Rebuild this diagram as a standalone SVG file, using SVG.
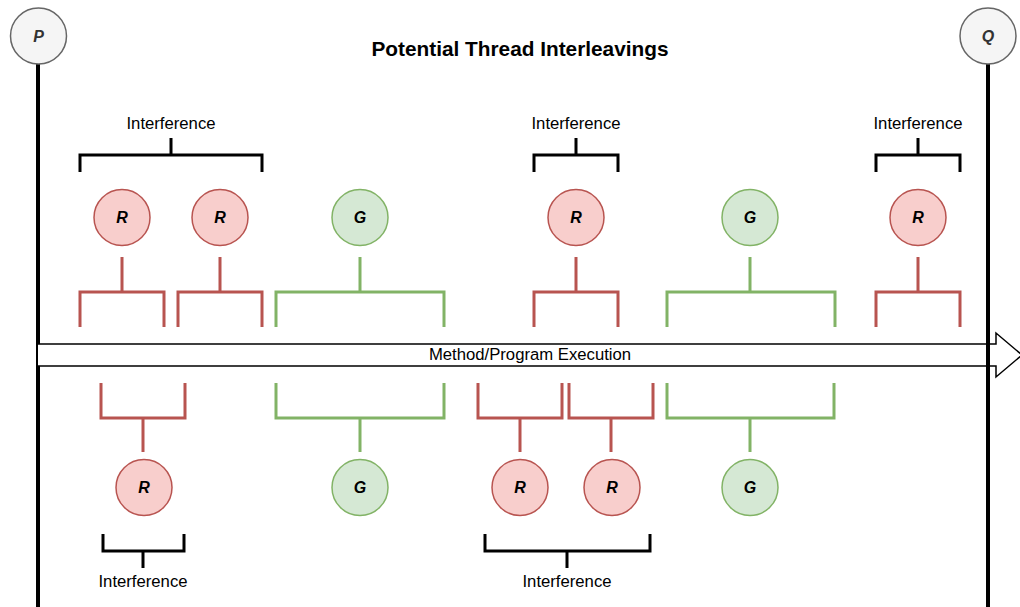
<svg xmlns="http://www.w3.org/2000/svg" width="1020" height="607" viewBox="0 0 1020 607">
<style>
text{font-family:"Liberation Sans",Arial,sans-serif;}
.lbl{font-size:16.7px;fill:#000;text-anchor:middle;dominant-baseline:central;}
.node{font-size:16px;font-weight:bold;font-style:italic;text-anchor:middle;dominant-baseline:central;fill:#000;}
.red circle{fill:#f8cecc;stroke:#b85450;stroke-width:1.5;}
.green circle{fill:#d5e8d4;stroke:#82b366;stroke-width:1.5;}
.gray circle{fill:#f5f5f5;stroke:#666666;stroke-width:1.5;}
.rb{fill:none;stroke:#b85450;stroke-width:3;}
.gb{fill:none;stroke:#82b366;stroke-width:3;}
.kb{fill:none;stroke:#000;stroke-width:3;}
.life{stroke:#000;stroke-width:4;}
</style>
<rect width="1020" height="607" fill="#fff"/>
<g id="connectors">
<line class="life" x1="38" y1="64" x2="38" y2="607"/>
<line class="life" x1="988" y1="64" x2="988" y2="607"/>
<g id="exec-arrow">
<path d="M38,344 H996 V333 L1022,355 L996,377 V366 H38" fill="#fff" stroke="#000" stroke-width="1.5"/>
<line class="life" x1="988" y1="342" x2="988" y2="368"/>
<text x="530" y="354" class="lbl">Method/Program Execution</text>
</g>
<!-- top black brackets -->
<path class="kb" d="M80,172 V155 H262 V172 M171,155 V138"/>
<path class="kb" d="M534,172 V155 H618 V172 M576,155 V138"/>
<path class="kb" d="M876,172 V155 H960 V172 M918,155 V138"/>
<!-- top coloured brackets -->
<path class="rb" d="M80,327 V292 H164 V327 M122,292 V257"/>
<path class="rb" d="M178,327 V292 H262 V327 M220,292 V257"/>
<path class="gb" d="M276,327 V292 H444 V327 M360,292 V257"/>
<path class="rb" d="M534,327 V292 H618 V327 M576,292 V257"/>
<path class="gb" d="M667,327 V292 H835 V327 M750,292 V257"/>
<path class="rb" d="M876,327 V292 H960 V327 M918,292 V257"/>
<!-- bottom coloured brackets -->
<path class="rb" d="M101,383 V418 H185 V383 M143,418 V452"/>
<path class="gb" d="M276,383 V418 H444 V383 M360,418 V452"/>
<path class="rb" d="M478,383 V418 H562 V383 M520,418 V452"/>
<path class="rb" d="M569,383 V418 H653 V383 M611,418 V452"/>
<path class="gb" d="M667,383 V418 H834 V383 M750,418 V452"/>
<!-- bottom black brackets -->
<path class="kb" d="M103,534 V551 H184 V534 M143,551 V568"/>
<path class="kb" d="M485,534 V551 H650 V534 M567,551 V568"/>
</g>
<text x="520" y="48" style="font-size:20.8px;font-weight:bold;text-anchor:middle;dominant-baseline:central">Potential Thread Interleavings</text>
<g id="labels">
<text class="lbl" x="171" y="123">Interference</text>
<text class="lbl" x="576" y="123">Interference</text>
<text class="lbl" x="918" y="123">Interference</text>
<text class="lbl" x="143" y="581">Interference</text>
<text class="lbl" x="567" y="581">Interference</text>
</g>
<g id="P" class="gray"><circle cx="38.5" cy="36" r="28"/><text class="node" x="38.5" y="36" style="fill:#333">P</text></g>
<g id="Q" class="gray"><circle cx="988" cy="36" r="28"/><text class="node" x="988" y="36" style="fill:#333">Q</text></g>
<g id="R1" class="red"><circle cx="122" cy="217.5" r="28"/><text class="node" x="122" y="217.5">R</text></g>
<g id="R2" class="red"><circle cx="220" cy="217.5" r="28"/><text class="node" x="220" y="217.5">R</text></g>
<g id="G1" class="green"><circle cx="360" cy="217.5" r="28"/><text class="node" x="360" y="217.5">G</text></g>
<g id="R3" class="red"><circle cx="576" cy="217.5" r="28"/><text class="node" x="576" y="217.5">R</text></g>
<g id="G2" class="green"><circle cx="750" cy="217.5" r="28"/><text class="node" x="750" y="217.5">G</text></g>
<g id="R4" class="red"><circle cx="918" cy="217.5" r="28"/><text class="node" x="918" y="217.5">R</text></g>
<g id="R5" class="red"><circle cx="144" cy="487.5" r="28"/><text class="node" x="144" y="487.5">R</text></g>
<g id="G3" class="green"><circle cx="360" cy="487.5" r="28"/><text class="node" x="360" y="487.5">G</text></g>
<g id="R6" class="red"><circle cx="520" cy="487.5" r="28"/><text class="node" x="520" y="487.5">R</text></g>
<g id="R7" class="red"><circle cx="612" cy="487.5" r="28"/><text class="node" x="612" y="487.5">R</text></g>
<g id="G4" class="green"><circle cx="750" cy="487.5" r="28"/><text class="node" x="750" y="487.5">G</text></g>
</svg>
